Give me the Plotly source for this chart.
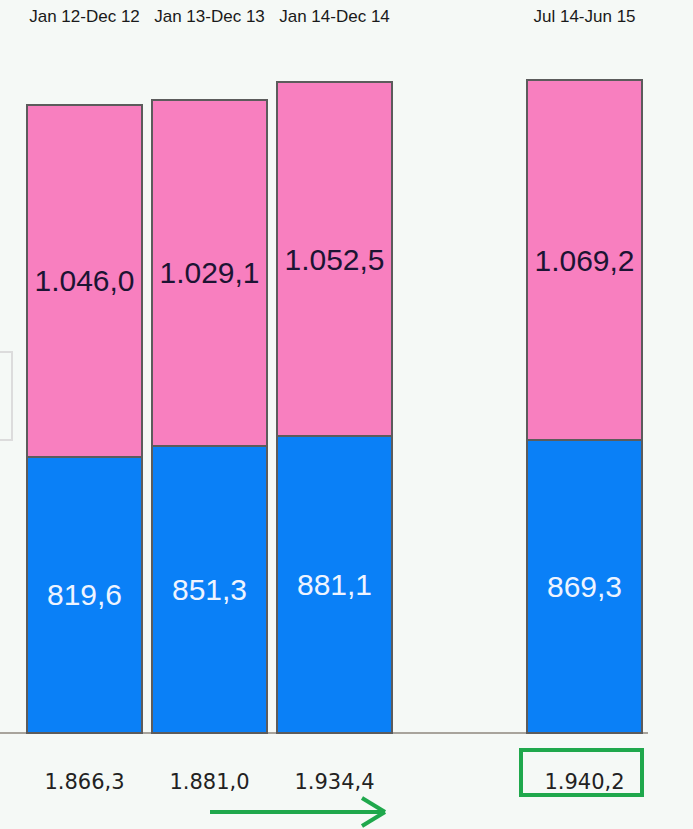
import plotly.graph_objects as go

# ---- data ----
categories = ["Jan 12-Dec 12", "Jan 13-Dec 13", "Jan 14-Dec 14", "Jul 14-Jun 15"]
slot = [0, 1, 2, 4]              # category slot (slot 3 left empty)
blue_values = [819.6, 851.3, 881.1, 869.3]
pink_values = [1046.0, 1029.1, 1052.5, 1069.2]
total_labels = ["1.866,3", "1.881,0", "1.934,4", "1.940,2"]

def eu(v):
    s = f"{v:,.1f}"
    return s.replace(",", "X").replace(".", ",").replace("X", ".")

BG = "#f5f9f6"
PINK = "#f87fbf"
BLUE = "#0a80f7"
EDGE = "#5c5c5c"
GREEN = "#1fa84c"

W, H = 693, 829
M_T = 26
PLOT_RIGHT = 648
M_R = W - PLOT_RIGHT
PLOT_W = W - M_R
PLOT_H = H - M_T
BASE_PX = 733                # baseline pixel row
UNIT_PX = 0.3368             # pixels per value unit
X0_PX, SLOT_PX = 84.5, 125.0

x_range = [-X0_PX / SLOT_PX, (PLOT_W - X0_PX) / SLOT_PX]
y_range = [-(H - BASE_PX) / UNIT_PX, (BASE_PX - M_T) / UNIT_PX]

def px_x(p):   # page pixel -> x value
    return (p - X0_PX) / SLOT_PX

def px_y(p):   # page pixel -> y value
    return (BASE_PX - p) / UNIT_PX

fig = go.Figure()
fig.add_trace(go.Bar(
    x=slot, y=blue_values, width=0.92,
    marker=dict(color=BLUE, line=dict(color=EDGE, width=2)),
    text=[eu(v) for v in blue_values], textposition="inside",
    insidetextanchor="middle", textangle=0,
    textfont=dict(family="Liberation Sans, Arial", size=30, color="#eef4ff"),
    hoverinfo="skip", showlegend=False,
))
fig.add_trace(go.Bar(
    x=slot, y=pink_values, width=0.92,
    marker=dict(color=PINK, line=dict(color=EDGE, width=2)),
    text=[eu(v) for v in pink_values], textposition="inside",
    insidetextanchor="middle", textangle=0,
    textfont=dict(family="Liberation Sans, Arial", size=30, color="#1c1433"),
    hoverinfo="skip", showlegend=False,
))
fig.add_trace(go.Scatter(
    x=slot, y=[px_y(784)] * len(slot), mode="text",
    text=total_labels,
    textfont=dict(family="DejaVu Sans, Verdana", size=21, color="#222222"),
    hoverinfo="skip", showlegend=False,
))

shapes = [
    # green highlight box around last total
    dict(type="rect", xref="x", yref="y",
         x0=px_x(521), x1=px_x(642), y0=px_y(795), y1=px_y(750),
         line=dict(color=GREEN, width=4)),
    # green arrow
    dict(type="line", xref="x", yref="y",
         x0=px_x(210), x1=px_x(383), y0=px_y(812), y1=px_y(812),
         line=dict(color=GREEN, width=4)),
    dict(type="line", xref="x", yref="y",
         x0=px_x(385), x1=px_x(362), y0=px_y(812), y1=px_y(798),
         line=dict(color=GREEN, width=4)),
    dict(type="line", xref="x", yref="y",
         x0=px_x(385), x1=px_x(362), y0=px_y(812), y1=px_y(826),
         line=dict(color=GREEN, width=4)),
    # partial grey box at left edge
    dict(type="rect", xref="paper", yref="paper",
         x0=-0.05, x1=12 / PLOT_W,
         y0=(H - 440) / PLOT_H, y1=(H - 352) / PLOT_H,
         line=dict(color="#dcdcdc", width=2), fillcolor="rgba(0,0,0,0)"),
]

fig.update_layout(
    width=W, height=H,
    margin=dict(l=0, r=M_R, t=M_T, b=0),
    paper_bgcolor=BG, plot_bgcolor=BG,
    barmode="stack",
    shapes=shapes,
    hovermode=False,
    xaxis=dict(range=x_range, side="top", tickmode="array",
               tickvals=slot, ticktext=categories, showgrid=False,
               zeroline=False, showline=False, ticks="",
               tickfont=dict(family="Liberation Sans, Arial", size=17, color="#1a1a1a")),
    yaxis=dict(range=y_range, showgrid=False, showticklabels=False,
               zeroline=True, zerolinecolor="#a8a49c", zerolinewidth=2,
               showline=False, ticks=""),
)

fig.write_html(
    "out.html",
    config={"displayModeBar": False},
    post_script="document.body.style.margin='0';"
                "document.body.style.background='" + BG + "';"
                "document.body.style.overflow='hidden';",
)
